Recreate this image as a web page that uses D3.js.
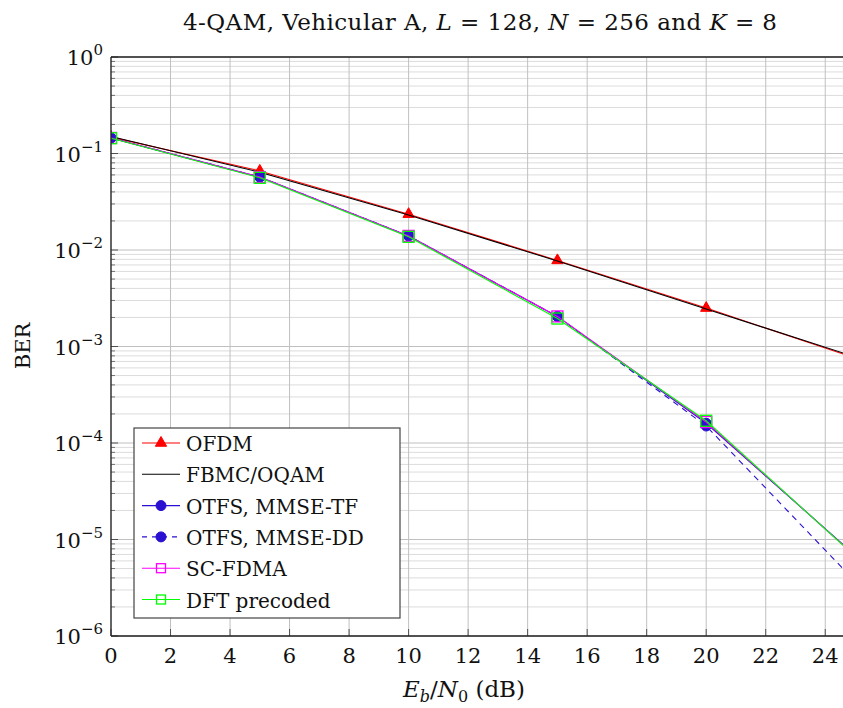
<!DOCTYPE html>
<html>
<head>
<meta charset="utf-8">
<script src="https://cdn.jsdelivr.net/npm/d3@7"></script>
<style>
  body { margin: 0; background: #fff; }
  svg { font-family: "DejaVu Serif", "Liberation Serif", serif; }
</style>
</head>
<body>
<div id="chart"></div>
<script>
// Eb/N0 points (dB)
const snr = [0, 5, 10, 15, 20, 25];

// BER per scheme
const berOFDM = [0.148, 0.066, 0.0235, 0.0078, 0.0025, 0.00076];
const berFBMC = [0.150, 0.064, 0.0230, 0.0077, 0.00245, 0.00078];
const berOtfsTF = [0.145, 0.057, 0.0140, 0.00205, 0.000160, 6.9e-6];
const berOtfsDD = [0.145, 0.057, 0.0140, 0.00205, 0.000150, 3.7e-6];
const berScFdma = [0.145, 0.057, 0.0140, 0.00205, 0.000165, 6.8e-6];
const berDft = [0.144, 0.056, 0.0137, 0.00195, 0.000170, 6.7e-6];

const xTicks = [0, 2, 4, 6, 8, 10, 12, 14, 16, 18, 20, 22, 24];
const yExponents = [0, -1, -2, -3, -4, -5, -6];

const series = [
  { name: "OFDM", values: berOFDM, color: "#ff0000", mark: "triangle", dash: null },
  { name: "FBMC/OQAM", values: berFBMC, color: "#000000", mark: null, dash: null },
  { name: "OTFS, MMSE-TF", values: berOtfsTF, color: "#2a10d0", mark: "circle", dash: null },
  { name: "OTFS, MMSE-DD", values: berOtfsDD, color: "#2a10d0", mark: "circle", dash: "6,5" },
  { name: "SC-FDMA", values: berScFdma, color: "#ff00ff", mark: "square", dash: null },
  { name: "DFT precoded", values: berDft, color: "#00ff00", mark: "square", dash: null }
];

const W = 843, H = 708;
const margin = { top: 57, left: 111 };
const plotW = 744, plotH = 579;

const svg = d3.select("#chart").append("svg")
  .attr("width", W).attr("height", H);

const x = d3.scaleLinear().domain([0, 25]).range([0, plotW]);
const y = d3.scaleLog().domain([1e-6, 1]).range([plotH, 0]);

const g = svg.append("g")
  .attr("transform", "translate(" + margin.left + "," + margin.top + ")");

// minor grid
let minorVals = [];
for (let e = -6; e < 0; e++) {
  for (let m = 2; m <= 9; m++) minorVals.push(m * Math.pow(10, e));
}
g.append("g").selectAll("line").data(minorVals).enter().append("line")
  .attr("x1", 0).attr("x2", plotW)
  .attr("y1", d => y(d)).attr("y2", d => y(d))
  .attr("stroke", "#dcdcdc").attr("stroke-width", 1);

// major grid
g.append("g").selectAll("line").data(yExponents).enter().append("line")
  .attr("x1", 0).attr("x2", plotW)
  .attr("y1", d => y(Math.pow(10, d))).attr("y2", d => y(Math.pow(10, d)))
  .attr("stroke", "#c0c0c0").attr("stroke-width", 1);
g.append("g").selectAll("line").data(xTicks).enter().append("line")
  .attr("x1", d => x(d)).attr("x2", d => x(d))
  .attr("y1", 0).attr("y2", plotH)
  .attr("stroke", "#c0c0c0").attr("stroke-width", 1);

// inner ticks
g.append("g").selectAll("line").data(minorVals).enter().append("line")
  .attr("x1", 0).attr("x2", 4)
  .attr("y1", d => y(d)).attr("y2", d => y(d))
  .attr("stroke", "#555").attr("stroke-width", 0.8);
g.append("g").selectAll("line").data(yExponents).enter().append("line")
  .attr("x1", 0).attr("x2", 7)
  .attr("y1", d => y(Math.pow(10, d))).attr("y2", d => y(Math.pow(10, d)))
  .attr("stroke", "#333").attr("stroke-width", 0.8);
g.append("g").selectAll("line").data(xTicks).enter().append("line")
  .attr("x1", d => x(d)).attr("x2", d => x(d))
  .attr("y1", plotH).attr("y2", plotH - 7)
  .attr("stroke", "#333").attr("stroke-width", 0.8);

// curves
svg.append("clipPath").attr("id", "clip")
  .append("rect").attr("width", plotW).attr("height", plotH);

const line = d3.line()
  .x((d, i) => x(snr[i]))
  .y(d => y(d));

const curves = g.append("g").attr("clip-path", "url(#clip)");

function drawMark(sel, mark, color, size) {
  if (mark === "triangle") {
    sel.append("path")
      .attr("d", d3.symbol(d3.symbolTriangle, size * size * 0.55)())
      .attr("fill", color).attr("stroke", color);
  } else if (mark === "circle") {
    sel.append("circle").attr("r", size / 2)
      .attr("fill", color).attr("stroke", color);
  } else if (mark === "square") {
    sel.append("rect")
      .attr("x", -size / 2).attr("y", -size / 2)
      .attr("width", size).attr("height", size)
      .attr("fill", "none").attr("stroke", color).attr("stroke-width", 1.3);
  }
}

series.forEach(s => {
  curves.append("path")
    .datum(s.values)
    .attr("d", line)
    .attr("fill", "none")
    .attr("stroke", s.color)
    .attr("stroke-width", 1.1)
    .attr("stroke-dasharray", s.dash);
  if (s.mark) {
    s.values.forEach((v, i) => {
      const m = curves.append("g")
        .attr("transform", "translate(" + x(snr[i]) + "," + y(v) + ")");
      drawMark(m, s.mark, s.color, s.mark === "square" ? 11 : 10);
    });
  }
});

// axis lines
g.append("line").attr("x1", 0).attr("x2", 0).attr("y1", 0).attr("y2", plotH)
  .attr("stroke", "#222").attr("stroke-width", 1.3);
g.append("line").attr("x1", 0).attr("x2", plotW).attr("y1", plotH).attr("y2", plotH)
  .attr("stroke", "#222").attr("stroke-width", 1.3);
g.append("line").attr("x1", 0).attr("x2", plotW).attr("y1", 0).attr("y2", 0)
  .attr("stroke", "#222").attr("stroke-width", 1.3);

// x tick labels
g.append("g").selectAll("text").data(xTicks).enter().append("text")
  .attr("x", d => x(d)).attr("y", plotH + 27)
  .attr("text-anchor", "middle")
  .attr("font-size", 21).attr("fill", "#111")
  .text(d => d);

// y tick labels, 10^e
const yl = g.append("g").selectAll("text").data(yExponents).enter().append("text")
  .attr("x", -8).attr("y", d => y(Math.pow(10, d)) + 8)
  .attr("text-anchor", "end")
  .attr("font-size", 21).attr("fill", "#111");
yl.append("tspan").text("10");
yl.append("tspan").attr("dy", -10).attr("font-size", 15)
  .text(d => d === 0 ? "0" : "\u2212" + (-d));

// title
const title = svg.append("text")
  .attr("x", 480).attr("y", 30)
  .attr("text-anchor", "middle")
  .attr("font-size", 23).attr("fill", "#111")
  .attr("textLength", 594).attr("lengthAdjust", "spacing");
title.append("tspan").text("4-QAM, Vehicular A, ");
title.append("tspan").attr("font-style", "italic").text("L");
title.append("tspan").text(" = 128, ");
title.append("tspan").attr("font-style", "italic").text("N");
title.append("tspan").text(" = 256 and ");
title.append("tspan").attr("font-style", "italic").text("K");
title.append("tspan").text(" = 8");

// axis labels
const xl = svg.append("text")
  .attr("x", 464).attr("y", 697)
  .attr("text-anchor", "middle")
  .attr("font-size", 23).attr("fill", "#111");
xl.append("tspan").attr("font-style", "italic").text("E");
xl.append("tspan").attr("font-style", "italic").attr("font-size", 16).attr("dy", 5).text("b");
xl.append("tspan").attr("dy", -5).text("/");
xl.append("tspan").attr("font-style", "italic").text("N");
xl.append("tspan").attr("font-size", 16).attr("dy", 5).text("0");
xl.append("tspan").attr("dy", -5).text(" (dB)");

svg.append("text")
  .attr("transform", "translate(30,346) rotate(-90)")
  .attr("text-anchor", "middle")
  .attr("font-size", 21).attr("fill", "#111")
  .text("BER");

// legend
const lg = svg.append("g").attr("transform", "translate(134,428)");
lg.append("rect")
  .attr("width", 266).attr("height", 190)
  .attr("fill", "#fff").attr("stroke", "#444").attr("stroke-width", 1.2);

series.forEach((s, i) => {
  const row = lg.append("g").attr("transform", "translate(0," + (15 + i * 31.3) + ")");
  row.append("line")
    .attr("x1", 8).attr("x2", 46).attr("y1", 0).attr("y2", 0)
    .attr("stroke", s.color).attr("stroke-width", 1.1)
    .attr("stroke-dasharray", s.dash ? "5,5" : null);
  if (s.mark) {
    const m = row.append("g").attr("transform", "translate(27,0)");
    drawMark(m, s.mark, s.color, s.mark === "square" ? 9 : 10);
  }
  row.append("text")
    .attr("x", 52).attr("y", 8)
    .attr("font-size", 20).attr("fill", "#111")
    .text(s.name);
});
</script>
</body>
</html>
